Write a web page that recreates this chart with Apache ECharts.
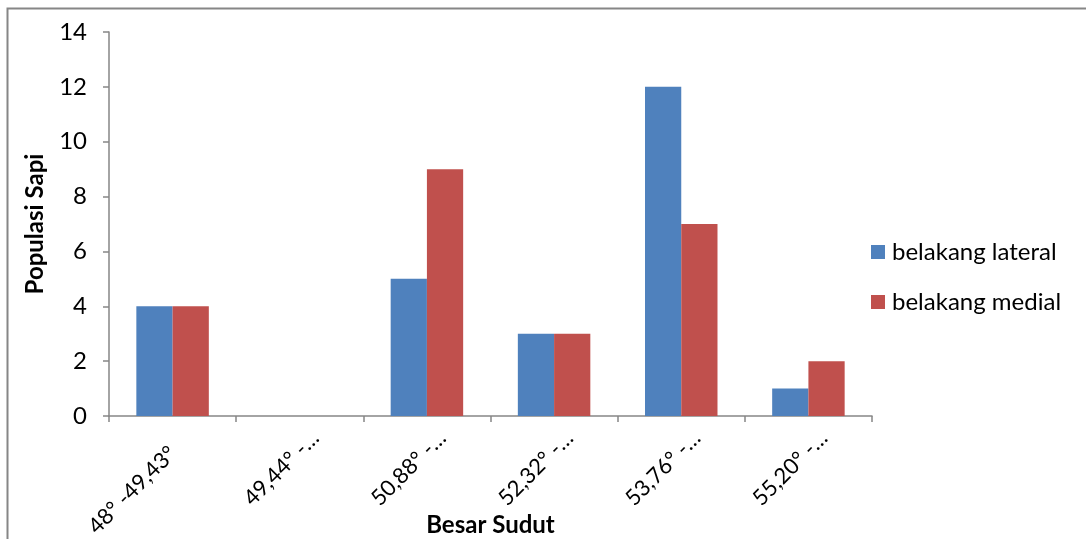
<!DOCTYPE html>
<html>
<head>
<meta charset="utf-8">
<script src="https://cdn.jsdelivr.net/npm/echarts@6/dist/echarts.min.js"></script>
<style>html,body{margin:0;padding:0;background:#fff}#c{width:1086px;height:539px}</style>
</head>
<body>
<div id="c"></div>
<script>
const categories = ["48° -49,43°", "49,44° -…", "50,88° -…", "52,32° -…", "53,76° -…", "55,20° -…"];
const lateral = [4, 0, 5, 3, 12, 1];
const medial = [4, 0, 9, 3, 7, 2];
const seriesNames = ["belakang lateral", "belakang medial"];
const yTicks = { min: 0, max: 14, interval: 2 };

const FONT = "Lato";
const chart = echarts.init(document.getElementById('c'));
chart.setOption({
  animation: false,
  textStyle: { fontFamily: FONT },
  graphic: [{
    type: 'rect', shape: { x: 7.5, y: 8.5, width: 1200, height: 700 },
    style: { fill: 'none', stroke: '#868686', lineWidth: 2 }, silent: true
  }],
  grid: { left: 109, top: 32, right: 214, bottom: 123, containLabel: false, outerBoundsMode: 'none' },
  legend: {
    orient: 'vertical', left: 866, top: 235, itemWidth: 14, itemHeight: 14, itemGap: 26,
    icon: 'rect',
    textStyle: { fontSize: 24, color: '#000', fontFamily: FONT, padding: [0, 0, 0, 2] },
    data: seriesNames
  },
  xAxis: {
    type: 'category', data: categories,
    name: 'Besar Sudut', nameLocation: 'middle', nameGap: 97, nameMoveOverlap: false,
    nameTextStyle: { fontSize: 24, fontWeight: 'bold', color: '#000', fontFamily: FONT },
    axisLine: { lineStyle: { color: '#868686', width: 1.5 } },
    axisTick: { show: true, length: 6, lineStyle: { color: '#868686', width: 1.5 } },
    axisLabel: {
      rotate: 45, fontSize: 22, color: '#000', margin: 34, interval: 0,
      padding: [0, -22, 0, 0],
      formatter: (v, i) => (i === 0 ? '{a|' + v + '}' : '{b|' + v + '}'),
      rich: {
        a: { fontSize: 22, color: '#000', fontFamily: FONT, padding: [0, 22, 0, 0] },
        b: { fontSize: 22, color: '#000', fontFamily: FONT }
      }
    }
  },
  yAxis: {
    type: 'value', min: yTicks.min, max: yTicks.max, interval: yTicks.interval,
    name: 'Populasi Sapi', nameLocation: 'middle', nameGap: 62, nameMoveOverlap: false,
    nameTextStyle: { fontSize: 24, fontWeight: 'bold', color: '#000', fontFamily: FONT },
    splitLine: { show: false },
    axisLine: { show: true, lineStyle: { color: '#868686', width: 1.5 } },
    axisTick: { show: true, length: 6, lineStyle: { color: '#868686', width: 1.5 } },
    axisLabel: { fontSize: 24, color: '#000', margin: 22 }
  },
  series: [
    { name: seriesNames[0], type: 'bar', data: lateral, barGap: '0%', barCategoryGap: '43%', itemStyle: { color: '#4F81BD' } },
    { name: seriesNames[1], type: 'bar', data: medial, barGap: '0%', barCategoryGap: '43%', itemStyle: { color: '#C0504D' } }
  ]
});
</script>
</body>
</html>
